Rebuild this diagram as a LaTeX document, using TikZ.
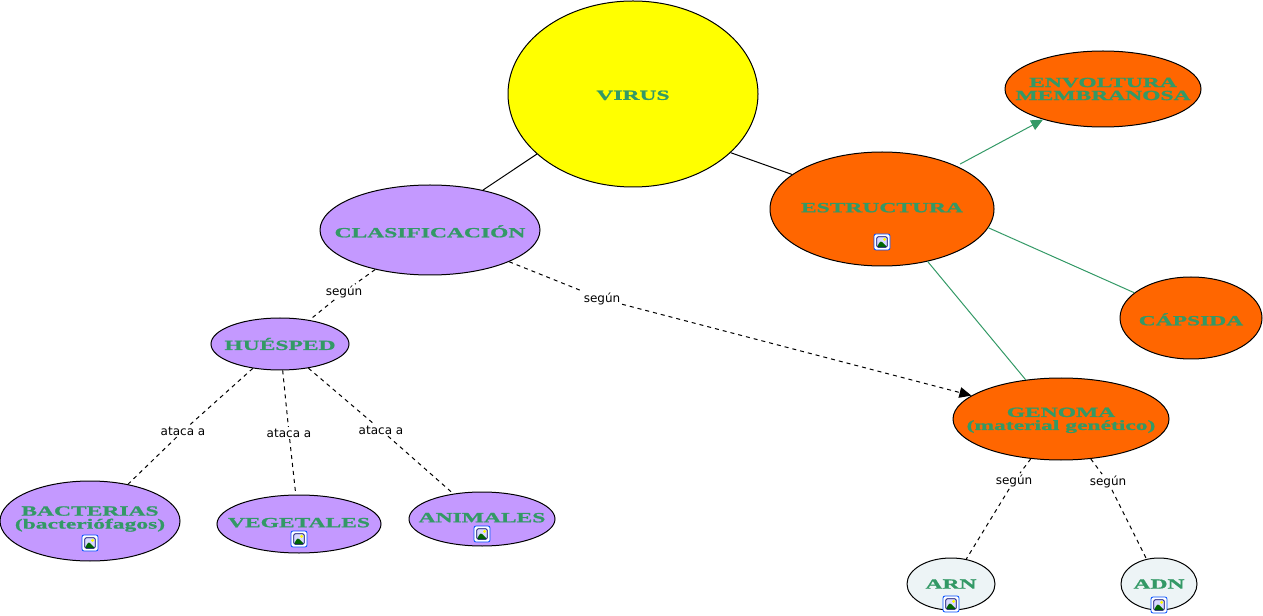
\documentclass[tikz,border=0pt]{standalone}
\usepackage{fontspec}
\setmainfont{DejaVu Sans}
\newfontfamily\anchafont[FakeStretch=1.68,BoldFeatures={FakeBold=1.2}]{Liberation Serif}
\usetikzlibrary{arrows.meta,shapes.geometric}
\definecolor{verdetexto}{HTML}{339966}
\definecolor{amarillo}{HTML}{FFFF00}
\definecolor{naranja}{HTML}{FF6600}
\definecolor{lila}{HTML}{C499FF}
\definecolor{palido}{HTML}{EDF4F6}
\tikzset{
  concepto/.style={ellipse,draw=black,line width=0.75pt,inner sep=0pt},
  texto/.style={font=\anchafont\bfseries\fontsize{10.5}{9.75}\selectfont,text=verdetexto,align=center,inner sep=0pt,yshift=-1pt},
  etiqueta/.style={font=\fontsize{9}{11}\selectfont,inner sep=1pt,text=black},
  icono/.style={draw=blue!70!cyan,line width=0.6pt,fill=white,rounded corners=1.5pt,minimum size=12pt,inner sep=0pt,
    path picture={
      \fill[blue!15!white] ([shift={(2pt,2pt)}]path picture bounding box.south west) rectangle ([shift={(-2pt,-2pt)}]path picture bounding box.north east);
      \fill[green!40!black] ([shift={(2pt,2pt)}]path picture bounding box.south west) -- ([shift={(-1pt,1pt)}]path picture bounding box.center) -- ([shift={(-2pt,2pt)}]path picture bounding box.south east) -- cycle;
      \fill[amarillo] ([shift={(2pt,2pt)}]path picture bounding box.center) circle (1.2pt);
      \draw[blue!40!black,line width=0.6pt] ([shift={(2pt,2pt)}]path picture bounding box.south west) rectangle ([shift={(-2pt,-2pt)}]path picture bounding box.north east);
    }}
}
\begin{document}
\begin{tikzpicture}[x=0.75pt,y=-0.75pt,node distance=150pt,>={Triangle[length=9pt,width=8pt]},line width=0.75pt]
  \useasboundingbox (0,0) rectangle (1263,616);

  \node [concepto,fill=amarillo,minimum width=187.5pt,minimum height=139.5pt,label={[texto]center:VIRUS}] (virus) at (633,94) {};
  \node [concepto,fill=naranja,right of=virus,xshift=36.75pt,yshift=-86.25pt,minimum width=168pt,minimum height=85.5pt,label={[texto,yshift=2pt]center:ESTRUCTURA}] (estructura) {};
  \node [concepto,fill=naranja,right of=estructura,xshift=15.75pt,yshift=90pt,minimum width=147pt,minimum height=57pt,label={[texto,yshift=1pt]center:{ENVOLTURA\\MEMBRANOSA}}] (envoltura) {};
  \node [concepto,fill=naranja,right of=estructura,xshift=81.75pt,yshift=-81.75pt,minimum width=106.5pt,minimum height=61.5pt,label={[texto]center:CÁPSIDA}] (capsida) {};
  \node [concepto,fill=naranja,below of=estructura,xshift=134.25pt,yshift=-7.5pt,minimum width=162pt,minimum height=61.5pt,label={[texto]center:{GENOMA\\(material genético)}}] (genoma) {};
  \node [concepto,fill=palido,below of=genoma,xshift=-82.5pt,yshift=26.25pt,minimum width=66pt,minimum height=39pt,label={[texto,yshift=1pt]center:ARN}] (arn) {};
  \node [concepto,fill=palido,below of=genoma,xshift=73.5pt,yshift=26.25pt,minimum width=57pt,minimum height=39pt,label={[texto,yshift=1pt]center:ADN}] (adn) {};

  \node [concepto,fill=lila,left of=virus,xshift=-2.25pt,yshift=-102pt,minimum width=165pt,minimum height=67.5pt,label={[texto]center:CLASIFICACIÓN}] (clasificacion) {};
  \node [concepto,fill=lila,below of=clasificacion,xshift=-112.5pt,yshift=64.5pt,minimum width=103.5pt,minimum height=39pt,label={[texto,yshift=1pt]center:HUÉSPED}] (huesped) {};
  \node [concepto,fill=lila,below of=huesped,xshift=-142.5pt,yshift=17.25pt,minimum width=135pt,minimum height=60pt,label={[texto,yshift=2.5pt]center:{BACTERIAS\\(bacteriófagos)}}] (bacterias) {};
  \node [concepto,fill=lila,below of=huesped,xshift=14.25pt,yshift=15pt,minimum width=123pt,minimum height=43.5pt,label={[texto,yshift=2pt]center:VEGETALES}] (vegetales) {};
  \node [concepto,fill=lila,below of=huesped,xshift=151.5pt,yshift=18.75pt,minimum width=109.5pt,minimum height=40.5pt,label={[texto,yshift=2pt]center:ANIMALES}] (animales) {};

  \node [icono,below of=estructura,node distance=24.75pt] (iconoe) {};
  \node [icono,below of=bacterias,node distance=16.5pt] (iconob) {};
  \node [icono,below of=vegetales,node distance=11.25pt] (iconov) {};
  \node [icono,below of=animales,node distance=11.25pt] (iconoa) {};
  \node [icono,below of=arn,node distance=15pt] (iconor) {};
  \node [icono,below of=adn,node distance=15.75pt] (iconod) {};

  \node [etiqueta,below of=clasificacion,xshift=-64.5pt,yshift=103.5pt] (seguna) {según};
  \node [etiqueta,right of=clasificacion,xshift=-21pt,yshift=-51.75pt] (segunb) {según};
  \node [etiqueta,below of=huesped,xshift=-72.75pt,yshift=84.75pt] (atacaa) {ataca a};
  \node [etiqueta,below of=huesped,xshift=6.75pt,yshift=83.25pt] (atacab) {ataca a};
  \node [etiqueta,below of=huesped,xshift=75.75pt,yshift=85.5pt] (atacac) {ataca a};
  \node [etiqueta,below of=genoma,xshift=-35.25pt,yshift=103.5pt] (segunc) {según};
  \node [etiqueta,below of=genoma,xshift=35.25pt,yshift=102.75pt] (segund) {según};

  \path[-] (virus.212) edge (clasificacion.37.4);
  \path[-] (virus.-31) edge (estructura.159.6);

  \path[->,verdetexto] (estructura.30) edge[shorten <=3pt] (envoltura.207);
  \path[-,verdetexto] (estructura.-10) edge (capsida.156);
  \path[-,verdetexto] (estructura.-49) edge (genoma.132);

  \path[-,dashed] (clasificacion) edge (seguna);
  \path[-,dashed] (seguna) edge (huesped);
  \path[-,dashed] (clasificacion) edge (segunb);
  \path[->,dashed] (segunb) edge (genoma);
  \path[-,dashed] (huesped) edge (atacaa);
  \path[-,dashed] (atacaa) edge (bacterias);
  \path[-,dashed] (huesped) edge (atacab);
  \path[-,dashed] (atacab) edge (vegetales);
  \path[-,dashed] (huesped) edge (atacac);
  \path[-,dashed] (atacac) edge (animales);
  \path[-,dashed] (genoma) edge (segunc);
  \path[-,dashed] (segunc) edge (arn);
  \path[-,dashed] (genoma) edge (segund);
  \path[-,dashed] (segund) edge (adn);

\end{tikzpicture}
\end{document}
